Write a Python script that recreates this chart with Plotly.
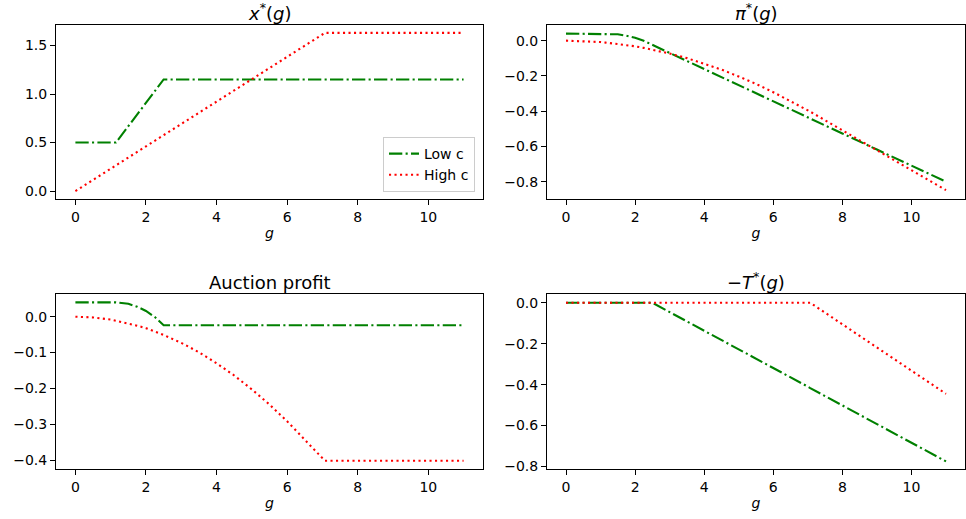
import plotly.graph_objects as go

# shared grid of g values
g = [0, 0.5, 1, 1.15, 1.5, 1.75, 2, 2.25, 2.5, 3, 3.5, 4, 4.5, 5, 5.5, 6, 6.5, 7, 7.07, 7.5, 8, 9, 10, 11]

# x*(g)
x_low = [0.5, 0.5, 0.5, 0.5, 0.669, 0.789, 0.909, 1.030, 1.15, 1.15, 1.15, 1.15, 1.15, 1.15, 1.15, 1.15, 1.15, 1.15, 1.15, 1.15, 1.15, 1.15, 1.15, 1.15]
x_high = [0, 0.115, 0.231, 0.265, 0.346, 0.404, 0.461, 0.519, 0.576, 0.692, 0.807, 0.922, 1.037, 1.153, 1.268, 1.383, 1.499, 1.614, 1.63, 1.63, 1.63, 1.63, 1.63, 1.63]

# pi*(g)
pi_low = [0.04, 0.04, 0.04, 0.04, 0.036, 0.028, 0.016, -0.001, -0.024, -0.070, -0.115, -0.161, -0.206, -0.252, -0.298, -0.343, -0.389, -0.434, -0.441, -0.480, -0.526, -0.617, -0.708, -0.799]
pi_high = [0, -0.002, -0.008, -0.011, -0.018, -0.025, -0.032, -0.041, -0.051, -0.073, -0.099, -0.130, -0.164, -0.203, -0.245, -0.292, -0.343, -0.397, -0.402, -0.451, -0.507, -0.620, -0.733, -0.847]

# Auction profit
auc_low = [0.04, 0.04, 0.04, 0.04, 0.036, 0.028, 0.016, -0.001, -0.024, -0.024, -0.024, -0.024, -0.024, -0.024, -0.024, -0.024, -0.024, -0.024, -0.024, -0.024, -0.024, -0.024, -0.024, -0.024]
auc_high = [0, -0.002, -0.008, -0.011, -0.018, -0.025, -0.032, -0.041, -0.051, -0.073, -0.099, -0.130, -0.164, -0.203, -0.245, -0.292, -0.343, -0.397, -0.402, -0.402, -0.402, -0.402, -0.402, -0.402]

# -T*(g)
negT_low = [0, 0, 0, 0, 0, 0, 0, 0, 0, -0.046, -0.091, -0.137, -0.182, -0.228, -0.274, -0.319, -0.365, -0.410, -0.417, -0.456, -0.502, -0.593, -0.684, -0.775]
negT_high = [0, 0, 0, 0, 0, 0, 0, 0, 0, 0, 0, 0, 0, 0, 0, 0, 0, 0, 0, -0.049, -0.105, -0.218, -0.331, -0.445]

series_names = ["Low c", "High c"]
titles = ["<i>x</i><sup>*</sup>(<i>g</i>)", "<i>π</i><sup>*</sup>(<i>g</i>)",
          "Auction profit", "−<i>T</i><sup>*</sup>(<i>g</i>)"]
x_ticks = [0, 2, 4, 6, 8, 10]
y_ticks_1 = [0.0, 0.5, 1.0, 1.5]
y_ticks_2 = [0.0, -0.2, -0.4, -0.6, -0.8]
y_ticks_3 = [0.0, -0.1, -0.2, -0.3, -0.4]
y_ticks_4 = [0.0, -0.2, -0.4, -0.6, -0.8]

W, H = 966, 519
FONT = "DejaVu Sans"
green_dash = "13.3px,3.3px,2.1px,3.3px"
red_dot = "2.1px,3.4px"

panels = [
    (x_low, x_high, y_ticks_1, [-0.0815, 1.7115], (56, 483), (25, 199)),
    (pi_low, pi_high, y_ticks_2, [-0.897, 0.0887], (547, 965), (25, 199)),
    (auc_low, auc_high, y_ticks_3, [-0.4242, 0.0634], (56, 483), (294, 468.7)),
    (negT_low, negT_high, y_ticks_4, [-0.8107, 0.0424], (547, 965), (294, 468.7)),
]

def fmt(v):
    s = f"{v:.1f}"
    if s.startswith("-"):
        s = "−" + s[1:]
    return s

fig = go.Figure()
layout = dict(
    width=W, height=H, margin=dict(l=0, r=0, t=0, b=0, pad=0, autoexpand=False),
    paper_bgcolor="white", plot_bgcolor="white",
    font=dict(family=FONT, size=14, color="black"),
    showlegend=True,
    legend=dict(x=475 / W, y=1 - 192 / H, xanchor="right", yanchor="bottom",
                bgcolor="rgba(255,255,255,0.8)", bordercolor="#cccccc", borderwidth=1,
                font=dict(family=FONT, size=14), itemwidth=30, tracegroupgap=0),
    annotations=[],
)

for i, (lo, hi, yt, yr, (px0, px1), (py0, py1)) in enumerate(panels):
    k = "" if i == 0 else str(i + 1)
    xa, ya = "x" + k, "y" + k
    fig.add_trace(go.Scatter(x=g, y=lo, mode="lines", name=series_names[0], xaxis=xa, yaxis=ya,
                             line=dict(color="green", width=2.1, dash=green_dash), showlegend=(i == 0)))
    fig.add_trace(go.Scatter(x=g, y=hi, mode="lines", name=series_names[1], xaxis=xa, yaxis=ya,
                             line=dict(color="red", width=2.1, dash=red_dot), showlegend=(i == 0)))
    common = dict(showline=True, linecolor="black", linewidth=1, mirror=True, showgrid=False,
                  zeroline=False, ticks="outside", ticklen=5, tickwidth=1, tickcolor="black",
                  automargin=False,
                  tickfont=dict(family=FONT, size=14, color="black"))
    layout["xaxis" + k] = dict(domain=[px0 / W, px1 / W], range=[-0.55, 11.55], anchor=ya,
                               tickvals=x_ticks, ticktext=[str(t) for t in x_ticks],
                               title=dict(text="<i>g</i>", font=dict(family=FONT, size=14), standoff=4),
                               **common)
    layout["yaxis" + k] = dict(domain=[1 - py1 / H, 1 - py0 / H], range=yr, anchor=xa,
                               tickvals=yt, ticktext=[fmt(t) for t in yt], **common)
    layout["annotations"].append(dict(text=titles[i], x=(px0 + px1) / 2 / W, y=1 - py0 / H,
                                      xref="paper", yref="paper", xanchor="center", yanchor="bottom",
                                      yshift=-1, showarrow=False, font=dict(family=FONT, size=18, color="black")))

fig.update_layout(**layout)
fig.write_html("out.html", config={"displayModeBar": False},
               post_script="document.body.style.margin='0';document.body.style.padding='0';"
                           "document.documentElement.style.overflow='hidden';")
